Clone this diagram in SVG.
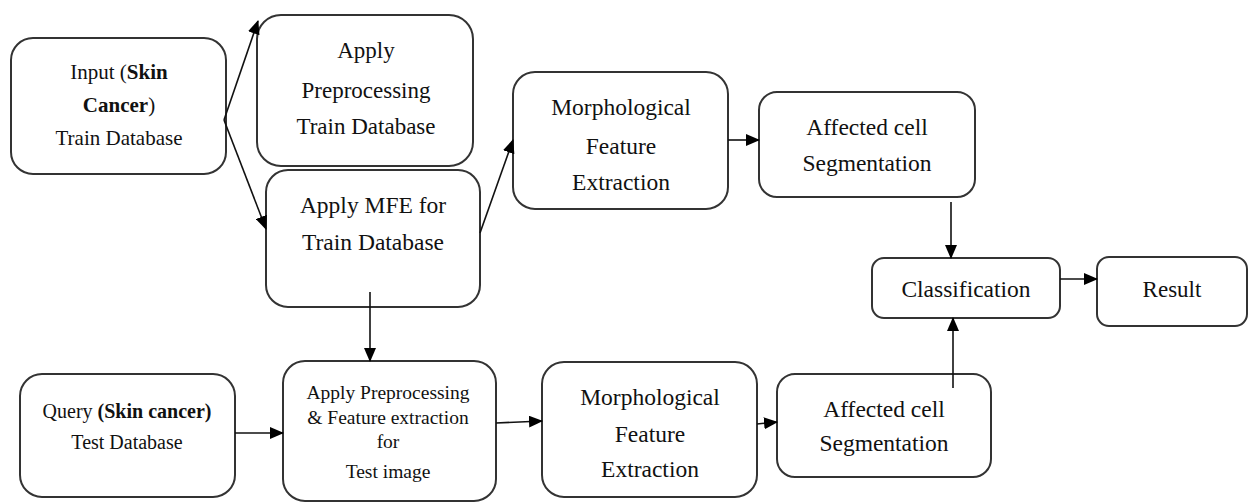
<svg xmlns="http://www.w3.org/2000/svg" width="1249" height="503" viewBox="0 0 1249 503">
<style>
.box{fill:#fff;stroke:#333;stroke-width:2}
.t{fill:#111;text-anchor:middle;font-family:'Liberation Serif','Times New Roman',serif}
.c{stroke:#111;stroke-width:1.6;fill:none;marker-end:url(#ah)}
.b{font-weight:bold}
</style>
<defs>
<marker id="ah" markerWidth="14" markerHeight="12" refX="13" refY="6" orient="auto" markerUnits="userSpaceOnUse">
<path d="M0,0 L14,6 L0,12 Z" fill="#000"/>
</marker>
</defs>
<rect width="1249" height="503" fill="#fff"/>
<g id="n-input">
<rect class="box" x="11" y="38" width="215" height="136" rx="22"/>
<text class="t" font-size="21" x="119" y="79">Input (<tspan class="b">Skin</tspan></text>
<text class="t" font-size="21" x="119" y="112"><tspan class="b">Cancer</tspan>)</text>
<text class="t" font-size="21" x="119" y="145">Train Database</text>
</g>
<g id="n-preproc">
<rect class="box" x="257" y="15" width="216" height="151" rx="24"/>
<text class="t" font-size="23" x="366" y="58">Apply</text>
<text class="t" font-size="23" x="366" y="98">Preprocessing</text>
<text class="t" font-size="23" x="366" y="134">Train Database</text>
</g>
<g id="n-mfe">
<rect class="box" x="266" y="170" width="214" height="137" rx="22"/>
<text class="t" font-size="23.5" x="373" y="213">Apply MFE for</text>
<text class="t" font-size="23.5" x="373" y="250">Train Database</text>
</g>
<g id="n-morph1">
<rect class="box" x="513" y="72" width="215" height="137" rx="22"/>
<text class="t" font-size="23.5" x="621" y="115">Morphological</text>
<text class="t" font-size="23.5" x="621" y="154">Feature</text>
<text class="t" font-size="23.5" x="621" y="190">Extraction</text>
</g>
<g id="n-seg1">
<rect class="box" x="759" y="92" width="216" height="105" rx="18"/>
<text class="t" font-size="23.5" x="867" y="135">Affected cell</text>
<text class="t" font-size="23.5" x="867" y="171">Segmentation</text>
</g>
<g id="n-class">
<rect class="box" x="872" y="258" width="188" height="60" rx="12"/>
<text class="t" font-size="23.5" x="966" y="297">Classification</text>
</g>
<g id="n-result">
<rect class="box" x="1097" y="257" width="150" height="69" rx="12"/>
<text class="t" font-size="23" x="1172" y="297">Result</text>
</g>
<g id="n-query">
<rect class="box" x="20" y="374" width="215" height="123" rx="22"/>
<text class="t" font-size="20" x="127" y="418">Query <tspan class="b">(Skin cancer)</tspan></text>
<text class="t" font-size="20" x="127" y="449">Test Database</text>
</g>
<g id="n-test">
<rect class="box" x="283" y="361" width="213" height="140" rx="22"/>
<text class="t" font-size="19.5" x="388" y="399">Apply Preprocessing</text>
<text class="t" font-size="19.5" x="388" y="424">&amp; Feature extraction</text>
<text class="t" font-size="19.5" x="388" y="448">for</text>
<text class="t" font-size="19.5" x="388" y="478">Test image</text>
</g>
<g id="n-morph2">
<rect class="box" x="542" y="362" width="215" height="135" rx="22"/>
<text class="t" font-size="23.5" x="650" y="405">Morphological</text>
<text class="t" font-size="23.5" x="650" y="442">Feature</text>
<text class="t" font-size="23.5" x="650" y="477">Extraction</text>
</g>
<g id="n-seg2">
<rect class="box" x="777" y="374" width="214" height="103" rx="18"/>
<text class="t" font-size="23.5" x="884" y="417">Affected cell</text>
<text class="t" font-size="23.5" x="884" y="451">Segmentation</text>
</g>
<g id="connectors">
<line class="c" x1="224" y1="120" x2="258" y2="21"/>
<line class="c" x1="224" y1="120" x2="266" y2="229"/>
<line class="c" x1="480" y1="233" x2="513" y2="140"/>
<line class="c" x1="728" y1="140" x2="759" y2="140"/>
<line class="c" x1="951" y1="202" x2="951" y2="258"/>
<line class="c" x1="1060" y1="279" x2="1097" y2="279"/>
<line class="c" x1="370" y1="292" x2="370" y2="361"/>
<line class="c" x1="235" y1="433" x2="283" y2="433"/>
<line class="c" x1="496" y1="423" x2="542" y2="421"/>
<line class="c" x1="757" y1="424" x2="777" y2="422"/>
<line class="c" x1="953" y1="388" x2="953" y2="318"/>
</g>
</svg>
